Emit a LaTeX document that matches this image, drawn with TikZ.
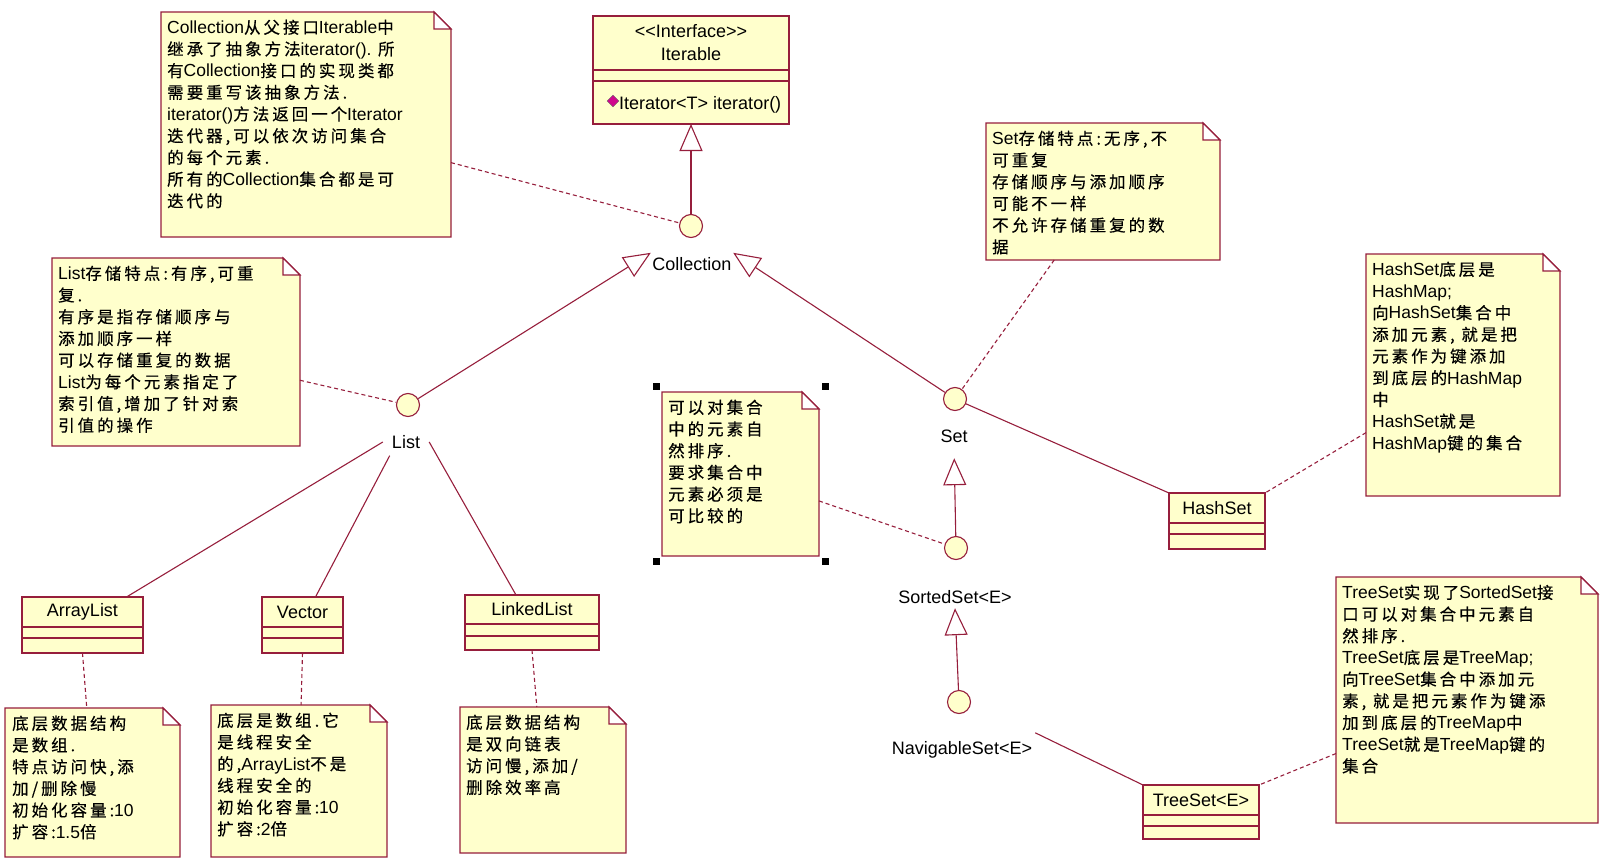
\documentclass[tikz,border=0pt]{standalone}
\usepackage{fontspec}
\setmainfont{Liberation Sans}
\newfontfamily\zhfont[Scale=0.94,LetterSpace=18.5,FakeBold=0.4]{Noto Sans CJK SC}
\usetikzlibrary{positioning}
\usetikzlibrary{arrows.meta}
\usetikzlibrary{shapes.geometric}

\definecolor{umlred}{RGB}{150,30,60}
\definecolor{umlfill}{RGB}{255,255,204}
\newcommand\labelfont{\fontsize{18pt}{23pt}\selectfont}
\newcommand\notefont{\fontsize{17.5pt}{21.7pt}\zhfont}
\newcommand\en[1]{{\rmfamily #1}}

\tikzset{
  umlline/.style={draw=umlred, line width=1.1pt},
  inherits/.style={umlline, -{Triangle[length=27pt,width=23pt,fill=white]}},
  notelink/.style={umlline, dash pattern=on 4pt off 3pt},
  lolli/.style={circle, draw=umlred, fill=umlfill, line width=1.1pt, minimum size=23pt, inner sep=0pt},
  ilabel/.style={font=\labelfont, inner sep=0pt, minimum height=22pt},
  classname/.style={draw=umlred, fill=umlfill, line width=1.1pt, inner sep=0pt, outer sep=0pt, font=\labelfont, minimum height=30pt},
  classpart/.style={draw=umlred, fill=umlfill, line width=1.1pt, inner sep=0pt, outer sep=0pt},
  note/.style={anchor=north west, inner sep=0pt, outer sep=0pt,
    append after command={\pgfextra{\let\notenode\tikzlastnode
      \filldraw[umlline, fill=umlfill] (\notenode.north west) -- ([xshift=-17pt]\notenode.north east)
        -- ([yshift=-17pt]\notenode.north east) -- (\notenode.south east)
        -- (\notenode.south west) -- cycle;
      \filldraw[umlline, fill=white] ([xshift=-17pt]\notenode.north east)
        |- ([yshift=-17pt]\notenode.north east) -- cycle;}}},
  notetext/.style={anchor=north west, inner sep=0pt, align=left, font=\notefont},
  handle/.style={fill=black, minimum size=7pt, inner sep=0pt},
}

\begin{document}
\begin{tikzpicture}[x=1pt,y=-1pt]
 \useasboundingbox (0,0) rectangle (1620,859);

 % notes
 \node[note, minimum width=290pt, minimum height=225pt] (collNote) at (161,12) {};
 \node[notetext] (collText) at ([shift={(6pt,-7.5pt)}]collNote.north west) {\en{Collection}从父接口\en{Iterable}中\\继承了抽象方法\en{iterator(). }所\\有\en{Collection}接口的实现类都\\需要重写该抽象方法.\\\en{iterator()}方法返回一个\en{Iterator}\\迭代器,可以依次访问集合\\的每个元素.\\所有的\en{Collection}集合都是可\\迭代的};
 \node[note, minimum width=248pt, minimum height=188pt] (listNote) at (52,258) {};
 \node[notetext] (listText) at ([shift={(6pt,-7.5pt)}]listNote.north west) {\en{List}存储特点:有序,可重\\复.\\有序是指存储顺序与\\添加顺序一样\\可以存储重复的数据\\\en{List}为每个元素指定了\\索引值,增加了针对索\\引值的操作};
 \node[note, minimum width=234pt, minimum height=137pt] (setNote) at (986,123) {};
 \node[notetext] (setText) at ([shift={(6pt,-7.5pt)}]setNote.north west) {\en{Set}存储特点:无序,不\\可重复\\存储顺序与添加顺序\\可能不一样\\不允许存储重复的数\\据};
 \node[note, minimum width=194pt, minimum height=242pt] (hashNote) at (1366,254) {};
 \node[notetext] (hashText) at ([shift={(6pt,-7.5pt)}]hashNote.north west) {\en{HashSet}底层是\\\en{HashMap;}\\向\en{HashSet}集合中\\添加元素, 就是把\\元素作为键添加\\到底层的\en{HashMap}\\中\\\en{HashSet}就是\\\en{HashMap}键的集合};
 \node[note, minimum width=157pt, minimum height=164pt] (sortNote) at (662,392) {};
 \node[notetext] (sortText) at ([shift={(6pt,-7.5pt)}]sortNote.north west) {可以对集合\\中的元素自\\然排序.\\要求集合中\\元素必须是\\可比较的};
 \node[note, minimum width=262pt, minimum height=246pt] (treeNote) at (1336,577) {};
 \node[notetext] (treeText) at ([shift={(6pt,-7.5pt)}]treeNote.north west) {\en{TreeSet}实现了\en{SortedSet}接\\口可以对集合中元素自\\然排序.\\\en{TreeSet}底层是\en{TreeMap;}\\向\en{TreeSet}集合中添加元\\素, 就是把元素作为键添\\加到底层的\en{TreeMap}中\\\en{TreeSet}就是\en{TreeMap}键的\\集合};
 \node[note, minimum width=175pt, minimum height=149pt] (arrNote) at (5,708) {};
 \node[notetext] (arrText) at ([shift={(7pt,-7.5pt)}]arrNote.north west) {底层数据结构\\是数组.\\特点访问快,添\\加/删除慢\\初始化容量:\en{10}\\扩容:\en{1.5}倍};
 \node[note, minimum width=176pt, minimum height=152pt] (vecNote) at (211,705) {};
 \node[notetext] (vecText) at ([shift={(6pt,-7.5pt)}]vecNote.north west) {底层是数组.它\\是线程安全\\的,\en{ArrayList}不是\\线程安全的\\初始化容量:\en{10}\\扩容:\en{2}倍};
 \node[note, minimum width=166pt, minimum height=146pt] (lnkNote) at (460,707) {};
 \node[notetext] (lnkText) at ([shift={(6pt,-7.5pt)}]lnkNote.north west) {底层数据结构\\是双向链表\\访问慢,添加/\\删除效率高};

 \node[handle] (h1) at ([shift={(-6pt,6pt)}]sortNote.north west) {};
 \node[handle] (h2) at ([shift={(6pt,6pt)}]sortNote.north east) {};
 \node[handle] (h3) at ([shift={(-6pt,-5pt)}]sortNote.south west) {};
 \node[handle] (h4) at ([shift={(6pt,-5pt)}]sortNote.south east) {};

 % Iterable
 \node[classname, minimum width=196pt, minimum height=54pt, align=center] (iterName) at (691,43) {<{}<Interface>{}>\\Iterable};
 \node[classpart, minimum width=196pt, minimum height=11pt, below=0pt of iterName] (iterAttr) {};
 \node[classpart, minimum width=196pt, minimum height=43pt, below=0pt of iterAttr] (iterOps) {};
 \node[diamond, draw=black!60, fill=magenta!85!blue, minimum size=12pt, inner sep=0pt] (iterIcon) at (613,101) {};
 \node[ilabel, anchor=west] (iterOp) at (619,105) {Iterator<T> iterator()};

 % classes
 \node[classname, minimum width=121pt] (arrName) at (82.5,612) {ArrayList};
 \node[classpart, minimum width=121pt, minimum height=11pt, below=0pt of arrName] (arrAttr) {};
 \node[classpart, minimum width=121pt, minimum height=15pt, below=0pt of arrAttr] (arrOps) {};
 \node[classname, minimum width=81pt] (vecName) at (302.5,612) {Vector};
 \node[classpart, minimum width=81pt, minimum height=11pt, below=0pt of vecName] (vecAttr) {};
 \node[classpart, minimum width=81pt, minimum height=15pt, below=0pt of vecAttr] (vecOps) {};
 \node[classname, minimum width=134pt, minimum height=29pt] (lnkName) at (532,609.5) {LinkedList};
 \node[classpart, minimum width=134pt, minimum height=12pt, below=0pt of lnkName] (lnkAttr) {};
 \node[classpart, minimum width=134pt, minimum height=14pt, below=0pt of lnkAttr] (lnkOps) {};
 \node[classname, minimum width=96pt] (hashName) at (1217,508) {HashSet};
 \node[classpart, minimum width=96pt, minimum height=11pt, below=0pt of hashName] (hashAttr) {};
 \node[classpart, minimum width=96pt, minimum height=15pt, below=0pt of hashAttr] (hashOps) {};
 \node[classname, minimum width=116pt] (treeName) at (1201,800) {TreeSet<E>};
 \node[classpart, minimum width=116pt, minimum height=11pt, below=0pt of treeName] (treeAttr) {};
 \node[classpart, minimum width=116pt, minimum height=13pt, below=0pt of treeAttr] (treeOps) {};

 % interfaces
 \node[lolli] (colc) at (691,226) {};
 \node[ilabel, minimum width=82pt] (colLbl) at (692,264) {Collection};
 \node[lolli] (listc) at (408,405) {};
 \node[ilabel, minimum width=46pt, minimum height=27pt] (listLbl) at (406,442) {List};
 \node[lolli] (setc) at (955,399) {};
 \node[ilabel] (setLbl) at (954,436) {Set};
 \node[lolli] (ssc) at (956,548) {};
 \node[ilabel] (ssLbl) at (955,597) {SortedSet<E>};
 \node[lolli] (navc) at (959,702) {};
 \node[ilabel, inner xsep=3pt, minimum height=34pt] (navLbl) at (962,750) {NavigableSet<E>};

 % connectors
 \draw[inherits] (colc) -- (iterOps.south);
 \draw[inherits] (listc) -- (colLbl.north west);
 \draw[inherits] (setc) -- (colLbl.north east);
 \draw[inherits, shorten >=11pt] (ssc) -- (setLbl.south);
 \draw[inherits] (navc) -- (ssLbl.south);
 \draw[umlline] (listLbl.west) -- ([xshift=44pt]arrName.north);
 \draw[umlline] (listLbl.220) -- ([xshift=13pt]vecName.north);
 \draw[umlline] (listLbl.east) -- ([xshift=-16pt]lnkName.north);
 \draw[umlline] (setc) -- (hashName.north west);
 \draw[umlline] (navLbl.north east) -- (treeName.north west);

 \draw[notelink] (collNote) -- (colc);
 \draw[notelink] (listNote) -- (listc);
 \draw[notelink] (setNote) -- (setc);
 \draw[notelink] (hashNote) -- (hashName.north east);
 \draw[notelink] (sortNote) -- (ssc);
 \draw[notelink] (treeNote) -- (treeName.north east);
 \draw[notelink] (arrOps.south) -- (arrNote);
 \draw[notelink] (vecOps.south) -- (vecNote);
 \draw[notelink] (lnkOps.south) -- (lnkNote);
\end{tikzpicture}
\end{document}
